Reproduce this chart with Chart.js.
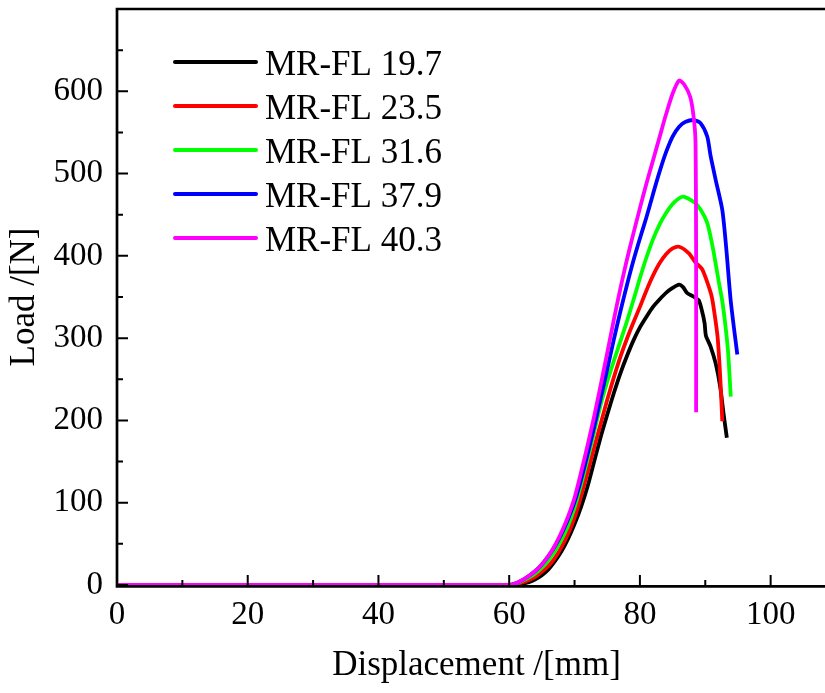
<!DOCTYPE html>
<html>
<head>
<meta charset="utf-8">
<script src="https://cdn.jsdelivr.net/npm/chart.js@4.4.1/dist/chart.umd.min.js"></script>
<style>
html, body { margin: 0; padding: 0; background: #fff; overflow: hidden; }
</style>
</head>
<body>
<canvas id="chart" width="836" height="693"></canvas>
<script>
//  Series names and colours, same order as the legend
const seriesLabels = [`MR-FL 19.7`, `MR-FL 23.5`, `MR-FL 31.6`, `MR-FL 37.9`, `MR-FL 40.3`]
const seriesColors = [`#000000`, `#ff0000`, `#00ff00`, `#0000ff`, `#ff00ff`]

//  Displacement [mm] / Load [N]
const disp197 = [0, 60, 61, 62, 63, 64, 65, 66, 67, 68, 69, 70, 71, 72, 73, 74, 75, 76, 77, 78, 79, 80, 81, 82, 83, 84, 85, 86, 86.6, 87.2, 88.3, 89.0, 89.5, 89.9, 90.1, 90.8, 91.6, 92.3, 92.8, 93.3]
const load197 = [0, 0, 0.5, 1.5, 3.5, 7, 12, 19, 29, 41, 56, 74, 95, 120, 150, 180, 207, 233, 257, 278, 297, 313, 326, 338, 347, 355, 361, 365, 362, 355, 350, 346, 333, 318, 303, 290, 269, 240, 208, 179]

const disp235 = [0, 60, 61, 62, 63, 64, 65, 66, 67, 68, 69, 70, 71, 72, 73, 74, 75, 76, 77, 78, 79, 80, 81, 82, 83, 84, 85, 86, 87.5, 88.5, 89.5, 90.3, 91.0, 91.5, 91.9, 92.2, 92.4, 92.6]
const load235 = [0, 0, 1, 3, 6, 10, 16, 23, 33, 46, 62, 82, 108, 137, 167, 196, 225, 252, 277, 299, 319, 338, 358, 376, 391, 402, 409, 411, 403, 392, 384, 368, 350, 325, 300, 265, 235, 199]

const disp316 = [0, 60, 61, 62, 63, 64, 65, 66, 67, 68, 69, 70, 71, 72, 73, 74, 75, 76, 77, 78, 79, 80, 81, 82, 83, 84, 85, 86, 86.7, 88.3, 89.3, 90.3, 91.1, 91.6, 92.1, 92.6, 93.1, 93.5, 93.9]
const load316 = [0, 0, 1.5, 5, 9, 14, 21, 30, 41, 55, 72, 94, 122, 153, 186, 219, 247, 272, 296, 320, 346, 373, 398, 420, 438, 452, 463, 470, 472, 465, 456, 440, 412, 390, 367, 345, 314, 282, 229]

const disp379 = [0, 60, 61, 62, 63, 64, 65, 66, 67, 68, 69, 70, 71, 72, 73, 74, 75, 76, 77, 78, 79, 80, 81, 82, 83, 84, 85, 86, 87, 88.3, 89.3, 90.3, 90.8, 91.6, 92.6, 93.2, 93.9, 94.9]
const load379 = [0, 0, 2, 6, 11, 17, 25, 35, 47, 62, 80, 101, 128, 159, 192, 227, 262, 298, 332, 364, 394, 421, 447, 475, 502, 526, 545, 557, 563, 565, 561, 545, 522, 492, 456, 410, 345, 280]

const disp403 = [0, 60, 61, 62, 63, 64, 65, 66, 67, 68, 69, 70, 71, 72, 73, 74, 75, 76, 77, 78, 79, 80, 81, 82, 83, 84, 85, 86, 86.8, 87.7, 88.2, 88.5, 88.6, 88.6]
const load403 = [0, 0, 2, 6, 11, 17, 25, 35, 48, 64, 83, 106, 137, 170, 205, 243, 282, 322, 360, 395, 427, 458, 488, 516, 544, 572, 597, 613, 608, 593, 570, 540, 400, 210]

//  Axis ticks
const xTicks = [0, 20, 40, 60, 80, 100]
const xMinorTicks = [10, 30, 50, 70, 90, 110]
const yTicks = [0, 100, 200, 300, 400, 500, 600]
const yMinorTicks = [50, 150, 250, 350, 450, 550, 650]

const seriesX = [disp197, disp235, disp316, disp379, disp403]
const seriesY = [load197, load235, load316, load379, load403]

const FONT = `'Liberation Serif', 'Times New Roman', serif`

const datasets = seriesLabels.map((label, i) => ({
	label,
	data: seriesX[i].map((x, j) => ({ x, y: seriesY[i][j] })),
	borderColor: seriesColors[i],
	backgroundColor: seriesColors[i],
	borderWidth: 3.8,
	pointRadius: 0,
	tension: 0.25,
	fill: false,
	//  later series sit on top, like the original plot
	order: seriesLabels.length - 1 - i
}))

//  Frame, inward ticks and the in-plot legend
const framePlugin = {
	id: `frame`,
	afterDraw(chart) {
		const { ctx, chartArea: { left, right, top, bottom }, scales: { x, y } } = chart
		ctx.save()
		ctx.strokeStyle = `#000`
		ctx.lineCap = `butt`

		//  axis lines
		ctx.lineWidth = 2.7
		ctx.beginPath()
		ctx.moveTo(left, top)
		ctx.lineTo(right + 10, top)
		ctx.moveTo(left, top - 1.3)
		ctx.lineTo(left, bottom + 2.6)
		ctx.moveTo(left - 1.3, bottom + 1.3)
		ctx.lineTo(right + 10, bottom + 1.3)
		ctx.stroke()

		//  ticks pointing into the plot
		ctx.lineWidth = 2
		ctx.beginPath()
		xTicks.forEach(v => {
			const px = x.getPixelForValue(v)
			ctx.moveTo(px, bottom + 1)
			ctx.lineTo(px, bottom - 10)
		})
		xMinorTicks.forEach(v => {
			const px = x.getPixelForValue(v)
			ctx.moveTo(px, bottom + 1)
			ctx.lineTo(px, bottom - 5)
		})
		yTicks.forEach(v => {
			const py = y.getPixelForValue(v)
			ctx.moveTo(left, py)
			ctx.lineTo(left + 11, py)
		})
		yMinorTicks.forEach(v => {
			const py = y.getPixelForValue(v)
			ctx.moveTo(left, py)
			ctx.lineTo(left + 6, py)
		})
		ctx.stroke()

		//  legend
		ctx.font = `35px ${FONT}`
		ctx.textBaseline = `alphabetic`
		ctx.textAlign = `left`
		chart.data.datasets.forEach((ds, i) => {
			const ly = 62 + i * 44
			ctx.strokeStyle = ds.borderColor
			ctx.lineWidth = 4
			ctx.lineCap = `round`
			ctx.beginPath()
			ctx.moveTo(175, ly)
			ctx.lineTo(256, ly)
			ctx.stroke()
			ctx.fillStyle = `#000`
			ctx.fillText(ds.label, 265, ly + 13)
		})
		ctx.restore()
	}
}

new Chart(document.getElementById(`chart`), {
	type: `line`,
	data: { datasets },
	options: {
		responsive: false,
		animation: false,
		layout: { padding: { top: 9, right: 0, left: 0, bottom: 0 } },
		plugins: {
			legend: { display: false },
			tooltip: { enabled: false }
		},
		scales: {
			x: {
				type: `linear`,
				min: 0,
				max: 110,
				afterFit: scale => {
					scale.height = 108
					scale.paddingLeft = 0
					scale.paddingRight = 0
				},
				afterBuildTicks: scale => { scale.ticks = xTicks.map(value => ({ value })) },
				grid: { display: false, drawTicks: false },
				border: { display: false },
				ticks: { color: `#000`, font: { family: FONT, size: 33 }, padding: 11, maxRotation: 0, autoSkip: false },
				title: { display: true, text: `Displacement /[mm]`, color: `#000`, font: { family: FONT, size: 35 }, padding: { top: 0, bottom: 6 } }
			},
			y: {
				min: 0,
				max: 700,
				afterFit: scale => {
					scale.width = 117
					scale.paddingTop = 0
					scale.paddingBottom = 0
				},
				afterBuildTicks: scale => { scale.ticks = yTicks.map(value => ({ value })) },
				grid: { display: false, drawTicks: false },
				border: { display: false },
				ticks: { color: `#000`, font: { family: FONT, size: 33 }, padding: 14, autoSkip: false },
				title: { display: true, text: `Load /[N]`, color: `#000`, font: { family: FONT, size: 35 }, padding: { top: 4, bottom: 0 } }
			}
		}
	},
	plugins: [framePlugin]
})
</script>
</body>
</html>
